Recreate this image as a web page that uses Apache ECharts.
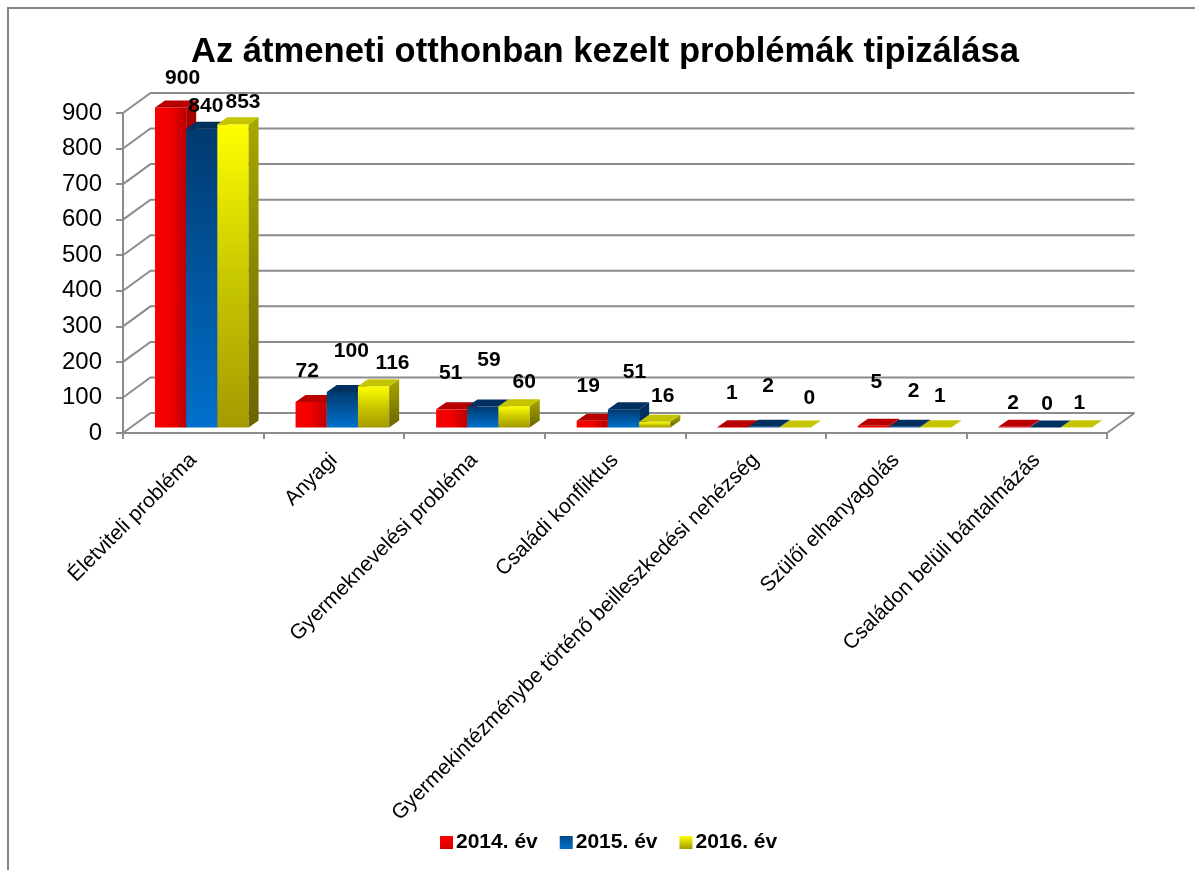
<!DOCTYPE html>
<html>
<head>
<meta charset="utf-8">
<title>Az átmeneti otthonban kezelt problémák tipizálása</title>
<script src="https://cdn.jsdelivr.net/npm/echarts@6/dist/echarts.min.js"></script>
<style>
    html, body { margin: 0; padding: 0; background: #fff; overflow: hidden; }
    #chart { width: 1195px; height: 870px; }
    #frame { position: absolute; left: 7px; top: 7px; width: 1188px; height: 863px; box-sizing: border-box; border-left: 2px solid #868686; border-top: 2px solid #868686; pointer-events: none; }
</style>
</head>
<body>
<div id="chart"></div>
<div id="frame"></div>
<script>
const titleText = 'Az átmeneti otthonban kezelt problémák tipizálása';
const categories = [
    'Életviteli probléma',
    'Anyagi',
    'Gyermeknevelési probléma',
    'Családi konfliktus',
    'Gyermekintézménybe történő beilleszkedési nehézség',
    'Szülői elhanyagolás',
    'Családon belüli bántalmázás'
];
const seriesNames = ['2014. év', '2015. év', '2016. év'];
const values2014 = [900, 72, 51, 19, 1, 5, 2];
const values2015 = [840, 100, 59, 51, 2, 2, 0];
const values2016 = [853, 116, 60, 16, 0, 1, 1];
const yTicks = [0, 100, 200, 300, 400, 500, 600, 700, 800, 900];

// The data labels were moved by hand in the original, so each has its own shift
const labelShift2014 = [[7, -22], [-9, -24], [-6, -29], [-9, -28], [-6, -27], [-2, -37], [-6, -17]];
const labelShift2015 = [[-1, -16], [4, -34], [1, -39], [6, -30], [-1, -34], [4, -29], [-3, -16]];
const labelShift2016 = [[5, -15], [14, -16], [5, -17], [3, -19], [9, -22], [-1, -24], [-2, -17]];

const FONT = '"Liberation Sans", Arial, sans-serif';
const GRID_COLOR = '#8c8c8c';

// 3D look
const WALL_DX = 27.5, WALL_DY = 20;
const BAR_W = 31.2, BAR_DX = 10, BAR_DY = 7, BAR_LIFT = 5.5, BAR_START = 38.3;

const grad = (x2, y2, stops) => new echarts.graphic.LinearGradient(0, 0, x2, y2, stops.map((c, i) => ({ offset: i / (stops.length - 1), color: c })));

const barStyles = [
    { front: () => grad(1, 0, ['#fb0000', '#f00000', '#bc0000']), flat: '#f00000', top: '#b80000', side: () => grad(0, 1, ['#a80000', '#8c0000']), legend: () => grad(0, 1, ['#ff0000', '#d80000']) },
    { front: () => grad(0, 1, ['#003a70', '#0070cc']), flat: '#0060b0', top: '#003060', side: () => grad(0, 1, ['#003060', '#003060']), legend: () => grad(0, 1, ['#004a88', '#0070cc']) },
    { front: () => grad(0, 1, ['#ffff00', '#c8c800', '#a59a00']), flat: '#e8e800', top: '#c4c400', side: () => grad(0, 1, ['#a8a800', '#6a6400']), legend: () => grad(0, 1, ['#ffff00', '#a59a00']) }
];

const poly = (points, fill) => ({ type: 'polygon', shape: { points }, style: { fill } });

function renderWall(params, api) {
    const cs = params.coordSys;
    const y = api.coord([0, api.value(1)])[1];
    const left = cs.x, right = cs.x + cs.width;
    const lineStyle = { stroke: GRID_COLOR, lineWidth: 2, fill: null };
    const children = [{
        type: 'polyline',
        shape: { points: [[left, y], [left + WALL_DX, y - WALL_DY], [right + WALL_DX, y - WALL_DY]] },
        style: lineStyle
    }];
    if (api.value(1) === 0) {
        children.push({ type: 'line', shape: { x1: right, y1: y, x2: right + WALL_DX, y2: y - WALL_DY }, style: lineStyle });
    }
    return { type: 'group', children };
}

function makeBarRenderer(seriesIndex, shifts) {
    const look = barStyles[seriesIndex];
    return function (params, api) {
        const idx = api.value(0);
        const val = api.value(1);
        const top = api.coord([idx, val]);
        const base = api.coord([idx, 0]);
        const x0 = top[0] - BAR_START + BAR_W * seriesIndex;
        const x1 = x0 + BAR_W;
        const yTop = top[1] - BAR_LIFT;
        const yBase = base[1] - BAR_LIFT;
        const tall = yBase - yTop > 2;
        const shift = shifts[idx];
        const children = [];
        if (yBase > yTop) {
            children.push(poly([[x0, yTop], [x1, yTop], [x1, yBase], [x0, yBase]], tall ? look.front() : look.flat));
            children.push(poly([[x1, yTop], [x1 + BAR_DX, yTop - BAR_DY], [x1 + BAR_DX, yBase - BAR_DY], [x1, yBase]], tall ? look.side() : look.top));
        }
        children.push(poly([[x0, yTop], [x0 + BAR_DX, yTop - BAR_DY], [x1 + BAR_DX, yTop - BAR_DY], [x1, yTop]], look.top));
        children.push({
            type: 'text',
            z2: 100,
            style: {
                text: String(val),
                x: x0 + BAR_W / 2 + 5 + shift[0],
                y: yTop - BAR_DY + shift[1],
                align: 'center',
                verticalAlign: 'middle',
                fill: '#000',
                font: 'bold 21px ' + FONT
            }
        });
        return { type: 'group', children };
    };
}

const allValues = [values2014, values2015, values2016];
const allShifts = [labelShift2014, labelShift2015, labelShift2016];

const chart = echarts.init(document.getElementById('chart'));
chart.setOption({
    backgroundColor: '#fff',
    animation: false,
    title: {
        text: titleText,
        left: 600,
        textAlign: 'center',
        top: 30,
        textStyle: { fontFamily: FONT, fontSize: 34.6, fontWeight: 'bold', color: '#000' }
    },
    legend: {
        left: 435,
        top: 827,
        itemWidth: 13,
        itemHeight: 13,
        itemGap: 22,
        icon: 'rect',
        data: seriesNames.map((name, i) => ({ name, itemStyle: { color: barStyles[i].legend() } })),
        textStyle: { fontFamily: FONT, fontSize: 21, fontWeight: 'bold', color: '#000', padding: [0, 0, 0, -2] }
    },
    grid: { left: 123, right: 88, top: 113, height: 320, containLabel: false },
    xAxis: {
        type: 'category',
        data: categories,
        axisLine: { lineStyle: { color: GRID_COLOR, width: 2 } },
        axisTick: { show: true, length: 6, alignWithLabel: false, lineStyle: { color: GRID_COLOR, width: 2 } },
        splitLine: { show: false },
        axisLabel: {
            interval: 0,
            rotate: 45,
            margin: 24,
            fontFamily: FONT,
            fontSize: 21,
            color: '#000'
        }
    },
    yAxis: {
        type: 'value',
        min: 0,
        max: 900,
        interval: 100,
        axisLine: { show: true, lineStyle: { color: GRID_COLOR, width: 2 } },
        axisTick: { show: true, length: 7, lineStyle: { color: GRID_COLOR, width: 2 } },
        splitLine: { show: false },
        axisLabel: { margin: 21, fontFamily: FONT, fontSize: 24, color: '#000' }
    },
    series: [
        {
            type: 'custom',
            name: 'wall',
            silent: true,
            z: 1,
            renderItem: renderWall,
            data: yTicks.map(v => [0, v]),
            encode: { x: 0, y: 1 }
        }
    ].concat(seriesNames.map((name, i) => ({
        type: 'custom',
        name,
        z: 2 + i,
        itemStyle: { color: barStyles[i].flat },
        renderItem: makeBarRenderer(i, allShifts[i]),
        data: allValues[i].map((v, k) => [k, v]),
        encode: { x: 0, y: 1 }
    })))
});
</script>
</body>
</html>
